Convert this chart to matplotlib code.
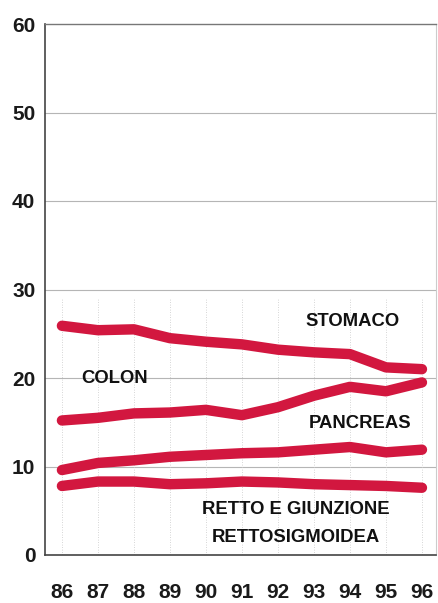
import matplotlib
matplotlib.use("Agg")
import matplotlib.pyplot as plt

years = [86, 87, 88, 89, 90, 91, 92, 93, 94, 95, 96]
stomaco = [25.9, 25.4, 25.5, 24.5, 24.1, 23.8, 23.2, 22.9, 22.7, 21.2, 21.0]
colon = [15.2, 15.5, 16.0, 16.1, 16.4, 15.8, 16.7, 18.0, 19.0, 18.5, 19.5]
pancreas = [9.6, 10.4, 10.7, 11.1, 11.3, 11.5, 11.6, 11.9, 12.2, 11.6, 11.9]
retto = [7.8, 8.3, 8.3, 8.0, 8.1, 8.3, 8.2, 8.0, 7.9, 7.8, 7.6]
yticks = [0, 10, 20, 30, 40, 50, 60]

plt.rcParams['font.family'] = ['Liberation Sans', 'DejaVu Sans']

fig = plt.figure(figsize=(4.39, 6.03), dpi=100)
ax = fig.add_axes([45/439, 1-555/603, (436-45)/439, (555-24)/603])
ax.set_xlim(85.53, 96.39)
ax.set_ylim(0, 60)

red = '#d2173f'
for s in (stomaco, colon, pancreas, retto):
    ax.plot(years, s, color=red, lw=7.5, solid_capstyle='round', solid_joinstyle='round', zorder=3)

for y in yticks[1:-1]:
    ax.axhline(y, color='#b5b5b5', lw=0.8, zorder=1)
for x in years:
    ax.axvline(x, ymax=29/60, color='#c8c8c8', lw=0.6, ls=(0, (1, 2)), zorder=1)

for side in ('left', 'bottom'):
    ax.spines[side].set_color('#444444')
    ax.spines[side].set_linewidth(1.2)
ax.spines['top'].set_color('#777777')
ax.spines['top'].set_linewidth(1.0)
ax.spines['right'].set_color('#cccccc')
ax.spines['right'].set_linewidth(0.8)

ax.set_yticks(yticks)
ax.set_yticklabels([str(v) for v in yticks], fontsize=15, fontweight='bold', color='#1a1a1a')
ax.set_xticks(years)
ax.set_xticklabels([str(v) for v in years], fontsize=15, fontweight='bold', color='#1a1a1a')
ax.tick_params(axis='both', length=0)
ax.tick_params(axis='y', pad=7)
ax.tick_params(axis='x', pad=20)

kw = dict(fontsize=13.3, fontweight='bold', color='#111111', ha='center', va='center')
ax.text(94.08, 26.4, 'STOMACO', **kw)
ax.text(87.47, 19.9, 'COLON', **kw)
ax.text(94.28, 14.9, 'PANCREAS', **kw)
ax.text(92.5, 5.1, 'RETTO E GIUNZIONE', **kw)
ax.text(92.5, 2.0, 'RETTOSIGMOIDEA', **kw)

fig.savefig('out.png', dpi=100, facecolor='white')
